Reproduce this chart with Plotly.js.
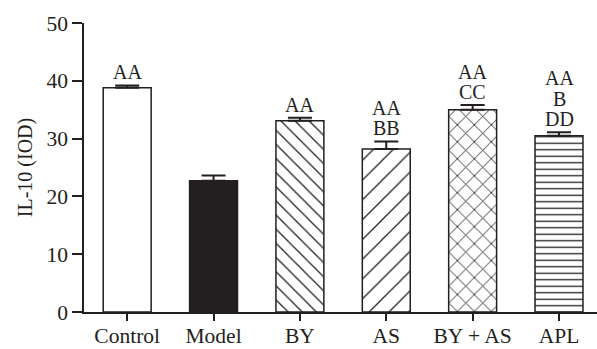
<!DOCTYPE html>
<html>
<head>
<meta charset="utf-8">
<script src="https://cdn.plot.ly/plotly-3.0.1.min.js"></script>
<style>html,body{margin:0;padding:0;background:#fff;}#chart{width:597px;height:349px;}</style>
</head>
<body>
<div id="chart"></div>
<script>
const categories = ["Control", "Model", "BY", "AS", "BY + AS", "APL"];
const values = [38.8, 22.7, 33.1, 28.2, 35.0, 30.5];
const errors = [0.4, 0.9, 0.5, 1.3, 0.8, 0.6];
const sigLabels = [["AA"], [], ["AA"], ["AA", "BB"], ["AA", "CC"], ["AA", "B", "DD"]];
const yTicks = [0, 10, 20, 30, 40, 50];

const ink = "#231f20";
const fills = ["#ffffff", ink, "#ffffff", "#ffffff", "#ffffff", "#ffffff"];
const shapes = ["", "", "\\", "/", "x", "-"];
const sizes = [8, 8, 10, 14, 12, 6.5];
const solid = [0.2, 0.2, 0.13, 0.09, 0.14, 0.2];

const traces = categories.map((c, i) => {
  const marker = {color: fills[i], line: {color: ink, width: 1.5}};
  if (shapes[i]) {
    marker.pattern = {shape: shapes[i], size: sizes[i], solidity: solid[i], fgcolor: ink, bgcolor: "#ffffff"};
  }
  return {
    type: "bar",
    x: [c],
    y: [values[i]],
    width: 0.555,
    marker: marker,
    error_y: {type: "data", symmetric: false, array: [errors[i]], arrayminus: [0], color: ink, thickness: 2, width: 12},
    hoverinfo: "none"
  };
});

const font = {family: "'Liberation Serif', 'Times New Roman', serif", size: 20, color: ink};
const tickFont = {family: "'Liberation Serif', 'Times New Roman', serif", size: 21.5, color: ink};
const annotations = [];
categories.forEach((c, i) => {
  const lines = sigLabels[i];
  const n = lines.length;
  lines.forEach((t, j) => {
    annotations.push({
      x: c, y: values[i] + errors[i], xref: "x", yref: "y",
      text: t, showarrow: false, yanchor: "bottom", xanchor: "center",
      yshift: (n - 1 - j) * 20.5, font: font
    });
  });
});

const layout = {
  width: 597, height: 349,
  margin: {l: 84, r: 0, t: 23, b: 37},
  paper_bgcolor: "#fff", plot_bgcolor: "#fff",
  font: font,
  showlegend: false,
  barmode: "overlay",
  hovermode: false,
  xaxis: {
    type: "category", categoryorder: "array", categoryarray: categories,
    range: [-0.5, 5.44], showgrid: false, zeroline: false,
    showline: true, linecolor: ink, linewidth: 1.5,
    ticks: "outside", ticklen: 7, tickwidth: 1.5, tickcolor: ink,
    ticklabelstandoff: -4,
    tickfont: tickFont, fixedrange: true
  },
  yaxis: {
    range: [0, 50], tickvals: yTicks, showgrid: false, zeroline: false,
    showline: true, linecolor: ink, linewidth: 1.5,
    ticks: "outside", ticklen: 10, tickwidth: 1.5, tickcolor: ink,
    tickfont: tickFont, title: {text: "IL-10 (IOD)", font: font, standoff: 8}, fixedrange: true
  },
  annotations: annotations
};

Plotly.newPlot("chart", traces, layout, {displayModeBar: false});
</script>
</body>
</html>
